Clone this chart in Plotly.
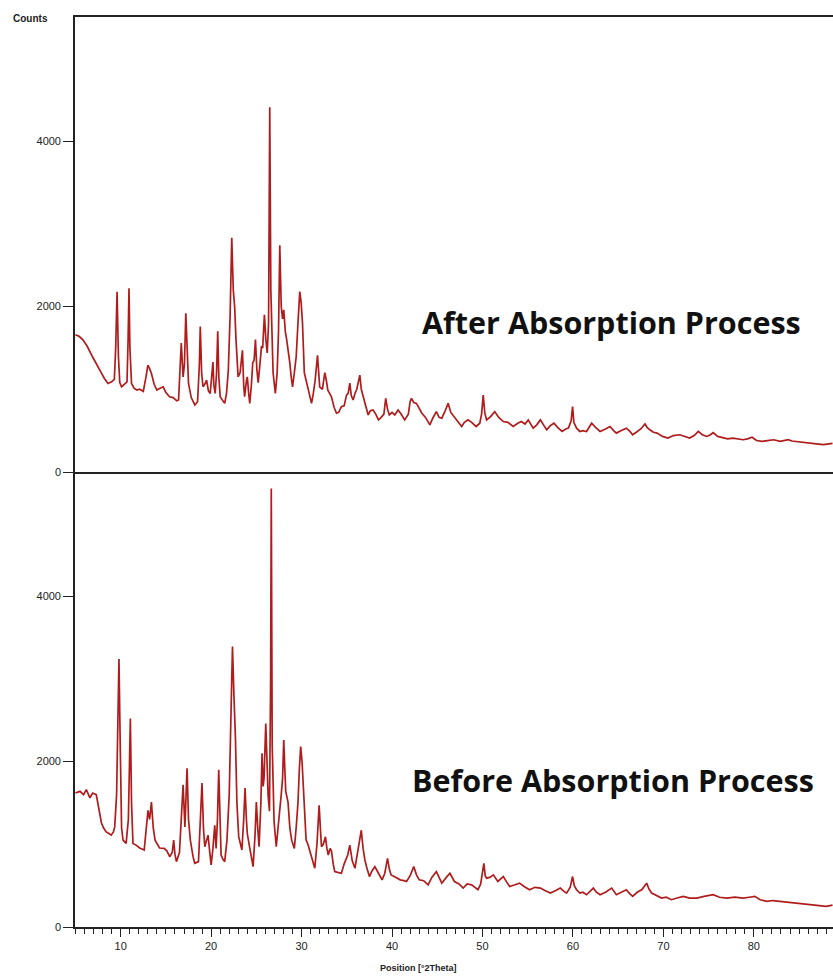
import plotly.graph_objects as go

# ---------------- data ----------------
two_theta_after = [
    5.0, 5.4, 5.8, 6.3, 6.9, 7.4, 7.8, 8.2, 8.6, 9.0, 9.3, 9.45, 9.6, 9.75, 9.9, 10.1, 10.4, 10.7,
    10.82, 10.92, 11.02, 11.2, 11.5, 11.8, 12.1, 12.5, 12.8, 13.0, 13.2, 13.4, 13.7, 14.0, 14.3,
    14.7, 15.0, 15.4, 15.8, 16.2, 16.4, 16.7, 16.9, 17.05, 17.2, 17.35, 17.5, 17.8, 18.2, 18.5,
    18.7, 18.8, 18.95, 19.1, 19.3, 19.5, 19.7, 19.9, 20.1, 20.2, 20.3, 20.45, 20.6, 20.73, 20.85,
    21.0, 21.3, 21.5, 21.7, 21.9, 22.1, 22.28, 22.45, 22.6, 22.75, 22.98, 23.2, 23.46, 23.6, 23.7,
    23.9, 24.0, 24.15, 24.27, 24.45, 24.6, 24.75, 24.9, 25.05, 25.2, 25.35, 25.56, 25.7, 25.89,
    26.05, 26.2, 26.35, 26.48, 26.6, 26.85, 27.1, 27.3, 27.45, 27.59, 27.75, 27.9, 28.03, 28.2,
    28.35, 28.5, 28.7, 28.85, 29.0, 29.2, 29.4, 29.6, 29.8, 29.95, 30.1, 30.3, 30.5, 30.66, 30.9,
    31.1, 31.3, 31.5, 31.76, 31.9, 32.0, 32.3, 32.57, 32.75, 32.9, 33.1, 33.3, 33.6, 33.86, 34.1,
    34.4, 34.7, 34.97, 35.15, 35.33, 35.5, 35.7, 35.9, 36.1, 36.3, 36.44, 36.6, 36.8, 37.1, 37.36,
    37.6, 37.9, 38.2, 38.5, 38.8, 39.1, 39.3, 39.5, 39.7, 40.0, 40.3, 40.67, 41.0, 41.4, 41.8,
    42.0, 42.15, 42.4, 42.7, 43.0, 43.3, 43.7, 44.18, 44.5, 44.9, 45.2, 45.5, 45.8, 46.0, 46.2,
    46.5, 46.9, 47.3, 47.7, 48.0, 48.4, 48.8, 49.3, 49.7, 49.9, 50.08, 50.25, 50.45, 50.9, 51.35,
    51.8, 52.3, 52.8, 53.4, 53.9, 54.3, 54.7, 55.06, 55.6, 56.0, 56.4, 56.8, 57.1, 57.5, 57.9,
    58.3, 58.8, 59.2, 59.5, 59.8, 59.96, 60.1, 60.4, 60.77, 61.1, 61.5, 61.8, 62.07, 62.5, 63.0,
    63.6, 64.1, 64.5, 64.8, 65.3, 65.9, 66.3, 66.6, 67.0, 67.5, 67.96, 68.2, 68.5, 68.9, 69.3,
    69.9, 70.5, 71.1, 71.8, 72.3, 72.9, 73.4, 73.86, 74.3, 74.8, 75.2, 75.5, 76.0, 76.6, 77.1,
    77.7, 78.2, 78.8, 79.3, 79.8, 80.3, 80.9, 81.5, 82.2, 82.9, 83.8, 84.2, 84.7, 85.4, 86.2,
    86.9, 87.7, 88.2, 88.7,
]
counts_after = [
    1660, 1640, 1600, 1520, 1390, 1280, 1210, 1130, 1070, 1090, 1120, 1500, 2180, 1400, 1080, 1030, 1060, 1090,
    1600, 2220, 1500, 1070, 1010, 990, 1000, 975, 1150, 1290, 1250, 1190, 1060, 990, 1010,
    1030, 960, 910, 900, 860, 870, 1560, 1150, 1300, 1920, 1350, 1070, 900, 810, 850,
    1300, 1760, 1200, 1030, 1060, 1110, 980, 950, 1150, 1330, 1050, 950, 1200, 1700, 1150,
    910, 860, 830, 950, 1230, 1900, 2830, 2200, 2000, 1600, 1150, 1200, 1470, 1050, 910,
    1100, 1150, 950, 830, 1050, 1320, 1350, 1600, 1250, 1080, 1250, 1510, 1500, 1900,
    1600, 1440, 1800, 4410, 2200, 1200, 950, 1200, 1700, 2740, 2000, 1850, 1960, 1700,
    1600, 1500, 1320, 1150, 1030, 1200, 1390, 1800, 2180, 2050, 1800, 1200, 1100, 1030, 900,
    830, 950, 1110, 1410, 1150, 1030, 1000, 1200, 1100, 990, 950, 910, 780, 710, 720,
    790, 800, 930, 950, 1075, 920, 870, 950, 1000, 1100, 1170, 1000, 910, 780, 690,
    740, 750, 700, 630, 660, 700, 890, 760, 690, 720, 690, 750, 700, 630, 700,
    850, 890, 840, 830, 760, 710, 660, 570, 650, 730, 660, 650, 720, 780, 830,
    720, 665, 600, 550, 600, 630, 600, 550, 590, 700, 930, 720, 630, 670, 730,
    660, 610, 600, 550, 590, 610, 580, 630, 530, 570, 630, 560, 510, 560, 590,
    540, 490, 520, 530, 620, 790, 600, 530, 490, 500, 490, 540, 590, 540, 490,
    520, 550, 500, 470, 500, 530, 490, 450, 480, 520, 580, 540, 510, 480, 470,
    430, 410, 440, 450, 430, 410, 440, 490, 450, 430, 450, 475, 430, 410, 400,
    410, 400, 390, 400, 420, 380, 370, 380, 390, 370, 390, 375, 370, 355, 350,
    340, 330, 340, 345,
]

two_theta_before = [
    5.0, 5.5, 5.9, 6.2, 6.6, 6.9, 7.3, 7.6, 7.87, 8.1, 8.4, 8.7, 8.95, 9.2, 9.34, 9.55, 9.7, 9.81,
    9.95, 10.1, 10.26, 10.6, 10.85, 10.95, 11.07, 11.2, 11.36, 11.7, 12.1, 12.6, 12.85, 13.02,
    13.2, 13.4, 13.6, 13.8, 14.3, 14.8, 15.1, 15.42, 15.7, 15.86, 16.0, 16.16, 16.5, 16.75, 16.9,
    17.1, 17.2, 17.34, 17.5, 17.7, 18.0, 18.19, 18.6, 18.8, 18.99, 19.15, 19.3, 19.5, 19.66,
    19.85, 20.0, 20.2, 20.4, 20.55, 20.7, 20.84, 20.98, 21.1, 21.3, 21.5, 21.75, 22.0, 22.2,
    22.36, 22.52, 22.69, 22.85, 23.05, 23.25, 23.4, 23.6, 23.75, 23.9, 24.0, 24.2, 24.4, 24.64,
    24.85, 25.0, 25.15, 25.3, 25.5, 25.63, 25.75, 25.85, 26.04, 26.2, 26.3, 26.45, 26.58, 26.65,
    26.75, 26.96, 27.2, 27.4, 27.6, 27.75, 27.9, 28.03, 28.15, 28.25, 28.5, 28.7, 28.9, 29.2,
    29.4, 29.6, 29.75, 29.9, 30.05, 30.2, 30.35, 30.5, 30.7, 30.9, 31.2, 31.46, 31.7, 31.94,
    32.1, 32.2, 32.4, 32.64, 32.8, 32.95, 33.15, 33.3, 33.5, 33.67, 34.0, 34.4, 34.7, 34.96,
    35.1, 35.33, 35.6, 35.9, 36.2, 36.4, 36.6, 36.8, 37.0, 37.25, 37.5, 37.8, 38.1, 38.5, 38.9,
    39.2, 39.5, 39.7, 39.9, 40.4, 40.9, 41.3, 41.6, 42.0, 42.4, 42.7, 43.0, 43.5, 43.99, 44.4,
    44.9, 45.2, 45.5, 46.0, 46.4, 46.9, 47.4, 47.87, 48.3, 48.8, 49.2, 49.5, 49.8, 50.0, 50.15,
    50.3, 50.45, 50.8, 51.2, 51.7, 52.3, 52.7, 53.0, 53.6, 54.1, 54.6, 55.2, 55.8, 56.4, 56.9,
    57.5, 58.1, 58.6, 59.0, 59.3, 59.7, 59.96, 60.15, 60.4, 60.77, 61.1, 61.5, 61.9, 62.25,
    62.6, 63.0, 63.6, 64.28, 64.8, 65.3, 65.9, 66.3, 66.6, 67.1, 67.6, 68.15, 68.4, 68.7, 69.2,
    69.8, 70.3, 70.9, 71.5, 72.2, 72.9, 73.7, 74.5, 75.5, 76.2, 77.0, 77.9, 78.8, 79.5, 80.1,
    80.7, 81.4, 82.1, 82.9, 83.6, 84.3, 85.2, 86.2, 87.1, 88.0, 88.7,
]
counts_before = [
    1620, 1640, 1600, 1660, 1560, 1620, 1600, 1420, 1260, 1200, 1150, 1130, 1110, 1150, 1210, 1600, 2600, 3240,
    2200, 1200, 1050, 1010, 1300, 2000, 2520, 1500, 1010, 990, 955, 930, 1200, 1410,
    1300, 1510, 1200, 1050, 955, 950, 920, 850, 900, 1050, 880, 790, 900, 1500, 1720,
    1210, 1500, 1920, 1300, 1050, 850, 770, 790, 1200, 1740, 1200, 970, 1050, 1110,
    900, 750, 950, 1230, 950, 1300, 1900, 1200, 870, 820, 790, 1050, 1600, 2600,
    3390, 2800, 2280, 1500, 1090, 1000, 930, 1300, 1680, 1300, 1130, 1000, 890, 730,
    1100, 1510, 1200, 970, 1500, 2100, 1700, 1800, 2460, 1900, 1590, 1400, 3000, 5300,
    2200, 1270, 970, 1200, 1500, 1600, 1800, 2260, 1900, 1640, 1510, 1200, 1050, 950,
    1200, 1500, 1900, 2180, 2000, 1680, 1300, 1050, 1000, 930, 800, 710, 1000, 1470,
    1150, 970, 1000, 1090, 950, 870, 950, 920, 760, 670, 660, 650, 760, 850,
    870, 990, 800, 710, 900, 1000, 1170, 950, 810, 700, 610, 680, 730, 650, 570,
    650, 830, 700, 630, 600, 570, 560, 550, 620, 730, 630, 570, 560, 510, 600,
    670, 600, 530, 600, 650, 550, 520, 470, 520, 510, 480, 450, 520, 650, 770,
    620, 590, 600, 630, 550, 610, 540, 490, 510, 530, 490, 450, 480, 470, 440,
    410, 440, 470, 430, 410, 480, 610, 500, 450, 410, 420, 390, 430, 470,
    420, 390, 420, 470, 390, 420, 450, 400, 370, 420, 450, 530, 460, 410, 380,
    350, 360, 330, 350, 370, 350, 350, 370, 390, 360, 350, 360, 350, 360, 370,
    330, 310, 320, 310, 300, 290, 280, 270, 260, 250, 265,
]

y_ticks = [0, 2000, 4000]
x_ticks = [10, 20, 30, 40, 50, 60, 70, 80]
panel_labels = ["After Absorption Process", "Before Absorption Process"]

# ---------------- figure ----------------
W, H = 833, 979
ML, MR, MT, MB = 75, 0, 17, 52


def px_to_paper(px, py):
    return (px - ML) / (W - ML - MR), (H - MB - py) / (H - MT - MB)


line_color = "#b01c1c"
fig = go.Figure()
fig.add_trace(go.Scatter(x=two_theta_after, y=counts_after, mode="lines",
                         line=dict(color=line_color, width=1.7),
                         xaxis="x2", yaxis="y2", showlegend=False))
fig.add_trace(go.Scatter(x=two_theta_before, y=counts_before, mode="lines",
                         line=dict(color=line_color, width=1.7),
                         xaxis="x", yaxis="y", showlegend=False))

tick_font = dict(family="Liberation Sans, Arial, sans-serif", size=11, color="#222")
axis_common = dict(showgrid=False, zeroline=False, showline=True, linecolor="#222", linewidth=1.6)
xr = [4.95, 88.75]
yr = [0, 5500]

fig.update_layout(
    width=W, height=H,
    margin=dict(l=ML, r=MR, t=MT, b=MB),
    plot_bgcolor="white", paper_bgcolor="white",
    xaxis=dict(**axis_common, range=xr, anchor="y", tickvals=x_ticks, ticks="outside",
               ticklen=8, tickwidth=1.3, tickcolor="#222", tickfont=dict(tick_font, size=11),
               minor=dict(dtick=1, tick0=0, ticks="outside", ticklen=5, tickwidth=1, tickcolor="#222")),
    yaxis=dict(**axis_common, range=yr, domain=[0, 0.5], anchor="x", tickvals=y_ticks,
               ticks="outside", ticklen=10, tickwidth=1, tickcolor="#222", tickfont=tick_font),
    xaxis2=dict(**axis_common, range=xr, anchor="y2", matches="x", mirror=True,
                showticklabels=False, ticks=""),
    yaxis2=dict(**axis_common, range=yr, domain=[0.5, 1], anchor="x2", tickvals=y_ticks,
                ticks="outside", ticklen=10, tickwidth=1, tickcolor="#222", tickfont=tick_font),
)

ann_font = dict(family="Open Sans, Noto Sans, sans-serif", size=30.5, color="#111")
for label, (cx, cy) in zip(panel_labels, [(611, 322), (613, 780)]):
    ax, ay = px_to_paper(cx, cy)
    fig.add_annotation(text="<b>" + label + "</b>", x=ax, y=ay, xref="paper", yref="paper",
                       showarrow=False, xanchor="center", yanchor="middle", font=ann_font)

small_font = dict(family="Liberation Sans, Arial, sans-serif", size=10, color="#222")
ax, ay = px_to_paper(11, 19)
fig.add_annotation(text="<b>Counts</b>", x=ax, y=ay, xref="paper", yref="paper",
                   showarrow=False, xanchor="left", yanchor="middle", font=small_font)
ax, ay = px_to_paper(418, 968)
fig.add_annotation(text="<b>Position [°2Theta]</b>", x=ax, y=ay, xref="paper", yref="paper",
                   showarrow=False, xanchor="center", yanchor="middle",
                   font=dict(small_font, size=9))

fig.write_html("out.html")
